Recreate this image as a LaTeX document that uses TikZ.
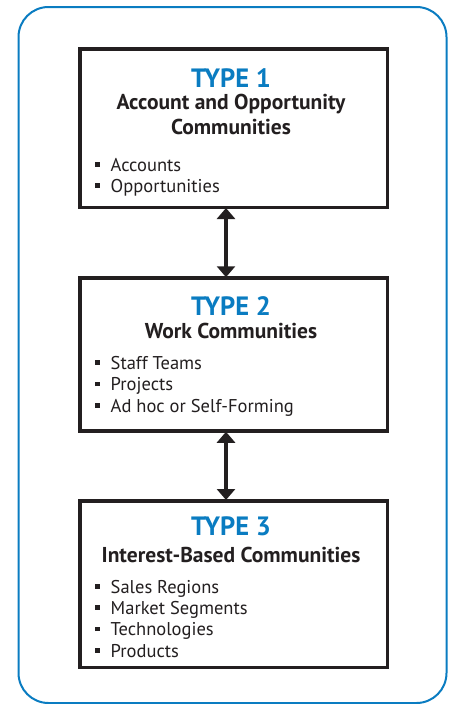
\documentclass[tikz,border=0pt]{standalone}
\usepackage{fontspec}
\setmainfont{PT Sans}
\usetikzlibrary{arrows.meta}
\definecolor{typeblue}{HTML}{0A7CC1}
\definecolor{boxdark}{HTML}{231F20}
\tikzset{
  frame/.style={draw=typeblue, line width=2pt, rounded corners=30pt, minimum width=428pt, minimum height=696pt, inner sep=0pt},
  typebox/.style={draw=boxdark, line width=3.5pt, minimum width=307.5pt, inner sep=0pt, fill=white},
  typetitle/.style={anchor=base, inner sep=0pt, text=typeblue, font=\bfseries\fontsize{26.5}{26.5}\selectfont},
  subtitle/.style={anchor=base, inner sep=0pt, text=boxdark, font=\bfseries\fontsize{21.5}{21.5}\selectfont},
  item/.style={anchor=base west, inner sep=0pt, text=boxdark, font=\fontsize{18.5}{18.5}\selectfont},
  link/.style={draw=boxdark, line width=4pt, {Triangle[width=18pt,length=11pt]}-{Triangle[width=18pt,length=11pt]}, shorten <=-1pt, shorten >=-1pt}
}
\newcommand{\bul}{\makebox[15.5pt][l]{\rule[4.5pt]{4.5pt}{4.5pt}}}
\begin{document}
\begin{tikzpicture}[x=1pt,y=-1pt]
\useasboundingbox (0,0) rectangle (453,704);
\node[frame] (frame) at (232.5,703-348) {};
\node[typebox, minimum height=158.5pt] (b1) at (233.5,128) {};
\node[typebox, minimum height=153pt] (b2) at (233.5,354.5) {};
\node[typebox, minimum height=166.5pt] (b3) at (233.5,584) {};
\draw[link] ([xshift=-7.5pt]b1.south) -- ([xshift=-7.5pt]b2.north);
\draw[link] ([xshift=-7.5pt]b2.south) -- ([xshift=-7.5pt]b3.north);
% box 1
\node[typetitle] (t1) at (231,87) {TYPE 1};
\node[subtitle] (s1a) at (231,109.5) {Account and Opportunity};
\node[subtitle] (s1b) at (231,134) {Communities};
\node[item] (i1a) at (95,171) {\bul Accounts};
\node[item] (i1b) at (95,192) {\bul Opportunities};
% box 2
\node[typetitle] (t2) at (231,315) {TYPE 2};
\node[subtitle] (s2) at (231,338) {Work Communities};
\node[item] (i2a) at (95,369) {\bul Staff Teams};
\node[item] (i2b) at (95,390.5) {\bul Projects};
\node[item] (i2c) at (95,412) {\bul Ad hoc or Self-Forming};
% box 3
\node[typetitle] (t3) at (231,535) {TYPE 3};
\node[subtitle] (s3) at (231,562) {Interest-Based Communities};
\node[item] (i3a) at (95,593) {\bul Sales Regions};
\node[item] (i3b) at (95,614) {\bul Market Segments};
\node[item] (i3c) at (95,635.5) {\bul Technologies};
\node[item] (i3d) at (95,657) {\bul Products};
\end{tikzpicture}
\end{document}
